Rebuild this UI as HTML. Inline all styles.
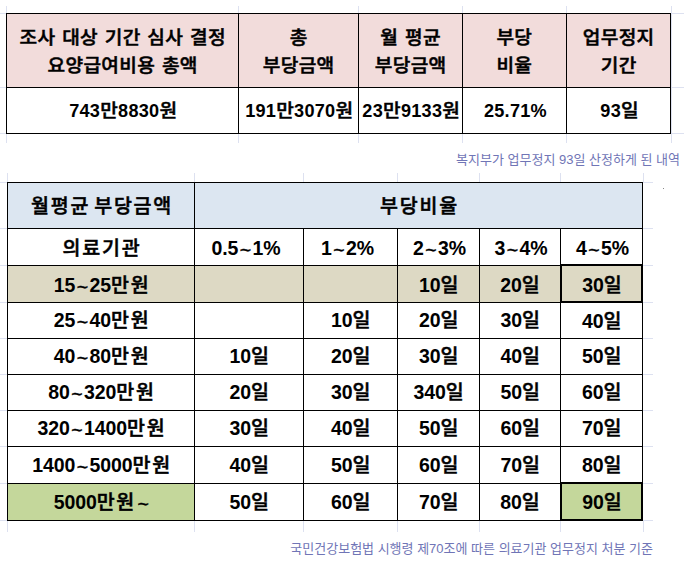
<!DOCTYPE html>
<html lang="ko">
<head>
<meta charset="utf-8">
<title>업무정지 산정 내역</title>
<style>
html,body{margin:0;padding:0;background:#fff;}
body{width:684px;height:561px;position:relative;overflow:hidden;
 font-family:"Liberation Sans","Noto Sans CJK KR",sans-serif;color:#000;}
.g{position:absolute;background:#dde1f0;}
table{position:absolute;border-collapse:collapse;table-layout:fixed;}
td{border:1px solid #000;text-align:center;vertical-align:middle;padding:0;
 font-weight:500;white-space:nowrap;overflow:hidden;-webkit-text-stroke:0.5px #000;}
td span{display:inline-block;position:relative;}
td b{font-weight:bold;-webkit-text-stroke:0;}
td i{font-style:normal;font-weight:normal;position:relative;top:2px;-webkit-text-stroke:0.4px #000;}
#t2 td i{margin:0 1.5px;}
#t2 tr.h td span{top:0;}
#t2 tr.u0 td span{top:0;}
#t2 tr.u1 td span{top:-1px;}
#t1{left:6px;top:13px;width:664px;}
#t1 td{font-size:18.5px;letter-spacing:0.3px;word-spacing:1.1px;}
#t1 td span{transform:scaleX(1.035);}
#t1 td b{letter-spacing:0.25px;font-size:17.5px;}
#t1 tr.h td{background:#f2dcdb;height:73px;line-height:28px;}
#t1 tr.h td span{top:1px;}
#t1 tr.d td{height:45px;line-height:26px;}
#t1 tr.d td span{top:0px;left:1px;}
#t2{left:7px;top:182px;width:635px;}
#t2 td{font-size:19.5px;letter-spacing:1.75px;word-spacing:-3px;height:35px;}
#t2 td{line-height:26px;}
#t2 td span{transform:scaleX(1.0);top:1px;left:1px;}
#t2 td b{letter-spacing:-0.1px;font-size:19.5px;}
#t2 tr.h td{background:#dce6f1;height:45px;}
#t2 tr.b td{background:#ddd9c4;}
#t2 td.gr{background:#c4d79b;}
#t2 td.k{border:2px solid #000;border-right:1px solid #000;box-shadow:inset -1px 0 0 #000;}
.cap{position:absolute;font-size:13px;color:#7075b6;white-space:nowrap;font-weight:normal;}
</style>
</head>
<body>
<div class="g" style="left:6px;top:6px;width:1px;height:7px"></div>
<div class="g" style="left:6px;top:134px;width:1px;height:9px"></div>
<div class="g" style="left:238px;top:6px;width:1px;height:7px"></div>
<div class="g" style="left:238px;top:134px;width:1px;height:9px"></div>
<div class="g" style="left:358px;top:6px;width:1px;height:7px"></div>
<div class="g" style="left:358px;top:134px;width:1px;height:9px"></div>
<div class="g" style="left:462px;top:6px;width:1px;height:7px"></div>
<div class="g" style="left:462px;top:134px;width:1px;height:9px"></div>
<div class="g" style="left:566px;top:6px;width:1px;height:7px"></div>
<div class="g" style="left:566px;top:134px;width:1px;height:9px"></div>
<div class="g" style="left:671px;top:6px;width:1px;height:7px"></div>
<div class="g" style="left:671px;top:134px;width:1px;height:9px"></div>
<div class="g" style="left:7px;top:173px;width:1px;height:9px"></div>
<div class="g" style="left:7px;top:521px;width:1px;height:11px"></div>
<div class="g" style="left:194px;top:173px;width:1px;height:9px"></div>
<div class="g" style="left:194px;top:521px;width:1px;height:11px"></div>
<div class="g" style="left:303px;top:173px;width:1px;height:9px"></div>
<div class="g" style="left:303px;top:521px;width:1px;height:11px"></div>
<div class="g" style="left:397px;top:173px;width:1px;height:9px"></div>
<div class="g" style="left:397px;top:521px;width:1px;height:11px"></div>
<div class="g" style="left:479px;top:173px;width:1px;height:9px"></div>
<div class="g" style="left:479px;top:521px;width:1px;height:11px"></div>
<div class="g" style="left:560px;top:173px;width:1px;height:9px"></div>
<div class="g" style="left:560px;top:521px;width:1px;height:11px"></div>
<div class="g" style="left:643px;top:173px;width:1px;height:9px"></div>
<div class="g" style="left:643px;top:521px;width:1px;height:11px"></div>
<div class="g" style="left:0px;top:13px;width:6px;height:1px"></div>
<div class="g" style="left:671px;top:13px;width:13px;height:1px"></div>
<div class="g" style="left:0px;top:87px;width:6px;height:1px"></div>
<div class="g" style="left:671px;top:87px;width:13px;height:1px"></div>
<div class="g" style="left:0px;top:133px;width:6px;height:1px"></div>
<div class="g" style="left:671px;top:133px;width:13px;height:1px"></div>
<div class="g" style="left:0px;top:182px;width:7px;height:1px"></div>
<div class="g" style="left:643px;top:182px;width:10px;height:1px"></div>
<div class="g" style="left:0px;top:228px;width:7px;height:1px"></div>
<div class="g" style="left:643px;top:228px;width:10px;height:1px"></div>
<div class="g" style="left:0px;top:265px;width:7px;height:1px"></div>
<div class="g" style="left:643px;top:265px;width:10px;height:1px"></div>
<div class="g" style="left:0px;top:302px;width:7px;height:1px"></div>
<div class="g" style="left:643px;top:302px;width:10px;height:1px"></div>
<div class="g" style="left:0px;top:338px;width:7px;height:1px"></div>
<div class="g" style="left:643px;top:338px;width:10px;height:1px"></div>
<div class="g" style="left:0px;top:374px;width:7px;height:1px"></div>
<div class="g" style="left:643px;top:374px;width:10px;height:1px"></div>
<div class="g" style="left:0px;top:410px;width:7px;height:1px"></div>
<div class="g" style="left:643px;top:410px;width:10px;height:1px"></div>
<div class="g" style="left:0px;top:446px;width:7px;height:1px"></div>
<div class="g" style="left:643px;top:446px;width:10px;height:1px"></div>
<div class="g" style="left:0px;top:483px;width:7px;height:1px"></div>
<div class="g" style="left:643px;top:483px;width:10px;height:1px"></div>
<div class="g" style="left:0px;top:520px;width:7px;height:1px"></div>
<div class="g" style="left:643px;top:520px;width:10px;height:1px"></div>
<div class="g" style="left:671px;top:13px;width:1px;height:121px"></div>
<div style="position:absolute;left:663px;top:188px;width:1px;height:1px;background:#888"></div>
<table id="t1">
<colgroup><col style="width:232px"><col style="width:120px"><col style="width:104px"><col style="width:104px"><col style="width:104px"></colgroup>
<tr class="h"><td><span>조사 대상 기간 심사 결정<br>요양급여비용 총액</span></td><td><span>총<br>부당금액</span></td><td><span>월 평균<br>부당금액</span></td><td><span>부당<br>비율</span></td><td><span>업무정지<br>기간</span></td></tr>
<tr class="d"><td><span><b>743</b>만<b>8830</b>원</span></td><td><span><b>191</b>만<b>3070</b>원</span></td><td><span><b>23</b>만<b>9133</b>원</span></td><td><span><b>25.71%</b></span></td><td><span><b>93</b>일</span></td></tr>
</table>
<div class="cap" style="right:4px;top:149px;">복지부가 업무정지 93일 산정하게 된 내역</div>
<table id="t2">
<colgroup><col style="width:187px"><col style="width:109px"><col style="width:94px"><col style="width:82px"><col style="width:81px"><col style="width:82px"></colgroup>
<tr class="h"><td><span>월평균 부당금액</span></td><td colspan="5"><span>부당비율</span></td></tr>
<tr><td><span>의료기관</span></td><td><span style="left:-3px"><b>0.5<i>~</i>1%</b></span></td><td><span style="left:-3px"><b>1<i>~</i>2%</b></span></td><td><span><b>2<i>~</i>3%</b></span></td><td><span><b>3<i>~</i>4%</b></span></td><td><span><b>4<i>~</i>5%</b></span></td></tr>
<tr class="b"><td><span><b>15<i>~</i>25</b>만원</span></td><td></td><td></td><td><span><b>10</b>일</span></td><td><span><b>20</b>일</span></td><td class="k"><span><b>30</b>일</span></td></tr>
<tr class="u0"><td><span><b>25<i>~</i>40</b>만원</span></td><td></td><td><span><b>10</b>일</span></td><td><span><b>20</b>일</span></td><td><span><b>30</b>일</span></td><td><span><b>40</b>일</span></td></tr>
<tr class="u1"><td><span><b>40<i>~</i>80</b>만원</span></td><td><span><b>10</b>일</span></td><td><span><b>20</b>일</span></td><td><span><b>30</b>일</span></td><td><span><b>40</b>일</span></td><td><span><b>50</b>일</span></td></tr>
<tr class="u1"><td><span><b>80<i>~</i>320</b>만원</span></td><td><span><b>20</b>일</span></td><td><span><b>30</b>일</span></td><td><span><b>340</b>일</span></td><td><span><b>50</b>일</span></td><td><span><b>60</b>일</span></td></tr>
<tr class="u1"><td><span><b>320<i>~</i>1400</b>만원</span></td><td><span><b>30</b>일</span></td><td><span><b>40</b>일</span></td><td><span><b>50</b>일</span></td><td><span><b>60</b>일</span></td><td><span><b>70</b>일</span></td></tr>
<tr class="u0"><td><span><b>1400<i>~</i>5000</b>만원</span></td><td><span><b>40</b>일</span></td><td><span><b>50</b>일</span></td><td><span><b>60</b>일</span></td><td><span><b>70</b>일</span></td><td><span><b>80</b>일</span></td></tr>
<tr class="u0"><td class="gr"><span><b>5000</b>만원<b><i>~</i></b></span></td><td><span><b>50</b>일</span></td><td><span><b>60</b>일</span></td><td><span><b>70</b>일</span></td><td><span><b>80</b>일</span></td><td class="gr k"><span><b>90</b>일</span></td></tr>
</table>
<div class="cap" style="right:31px;top:538px;">국민건강보험법 시행령 제70조에 따른 의료기관 업무정지 처분 기준</div>
</body>
</html>
